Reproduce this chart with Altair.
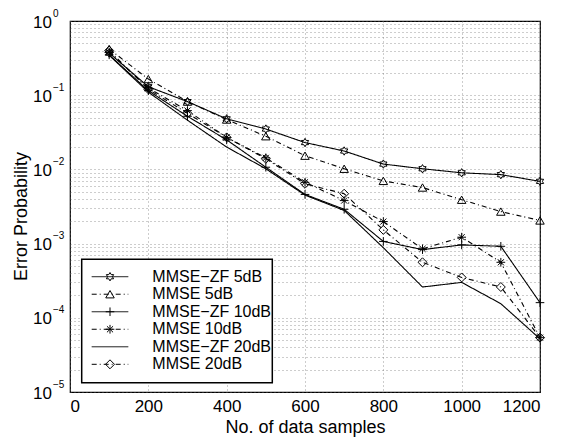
import altair as alt
import pandas as pd

# ---------------- data ----------------
x_samples = [100, 200, 300, 400, 500, 600, 700, 800, 900, 1000, 1100, 1200]
series_names = ["MMSE−ZF 5dB", "MMSE 5dB", "MMSE−ZF 10dB",
                "MMSE 10dB", "MMSE−ZF 20dB", "MMSE 20dB"]
zf_5db = [0.37, 0.13, 0.082, 0.048, 0.035, 0.023, 0.0177, 0.0118, 0.0102, 0.0090, 0.0085, 0.0069]
mmse_5db = [0.42, 0.165, 0.082, 0.047, 0.028, 0.0153, 0.0102, 0.0070, 0.0057, 0.0039, 0.0027, 0.00205]
zf_10db = [0.35, 0.115, 0.052, 0.025, 0.0107, 0.0046, 0.0029, 0.00107, 0.00083, 0.00096, 0.00092, 0.00016]
mmse_10db = [0.38, 0.125, 0.062, 0.027, 0.0143, 0.0067, 0.0038, 0.00198, 0.00085, 0.00122, 0.00056, 0.000054]
zf_20db = [0.345, 0.11, 0.046, 0.020, 0.0102, 0.0045, 0.0028, 0.00088, 0.00026, 0.0003, 0.000155, 0.000052]
mmse_20db = [0.40, 0.12, 0.057, 0.027, 0.0139, 0.0064, 0.0047, 0.00153, 0.00056, 0.00035, 0.00026, 0.000054]

x_ticks = [0, 200, 400, 600, 800, 1000, 1200]
decades = [1e-5, 1e-4, 1e-3, 1e-2, 1e-1, 1.0]
exponents = ["−5", "−4", "−3", "−2", "−1", "0"]
minor_ticks = [m * 10.0 ** e for e in range(-5, 0) for m in range(1, 10)] + [1.0]

rows = []
for name, vals in zip(series_names, [zf_5db, mmse_5db, zf_10db, mmse_10db, zf_20db, mmse_20db]):
    for xv, yv in zip(x_samples, vals):
        rows.append({"series": name, "samples": xv, "prob": yv})
df = pd.DataFrame(rows)
df_markers = df[df["series"] != "MMSE−ZF 20dB"]
df_leg = pd.DataFrame({"series": series_names})
df_leg_m = df_leg[df_leg["series"] != "MMSE−ZF 20dB"]
df_dec = pd.DataFrame({"decade": decades, "exp": exponents})
df_box = pd.DataFrame({"a": [0]})

# ---------------- styles ----------------
FONT = "Liberation Sans"
HEX = ("M0,-1L0.289,-0.5L0.866,-0.5L0.577,0L0.866,0.5L0.289,0.5L0,1"
       "L-0.289,0.5L-0.866,0.5L-0.577,0L-0.866,-0.5L-0.289,-0.5Z")
PLUS = "M-1,0L1,0M0,-1L0,1"
AST = "M-1,0L1,0M0,-1L0,1M-0.7,-0.7L0.7,0.7M-0.7,0.7L0.7,-0.7"
shape_scale = alt.Scale(domain=series_names,
                        range=[HEX, "triangle-up", PLUS, AST, "circle", "diamond"])
size_scale = alt.Scale(domain=series_names, range=[70, 80, 80, 70, 0, 70])
dash_scale = alt.Scale(domain=series_names,
                       range=[[1, 0], [5, 3, 1, 3], [1, 0], [5, 3, 1, 3], [1, 0], [5, 3, 1, 3]])
y_scale = alt.Scale(type="log", domain=[1e-5, 1], nice=False)
x_scale = alt.Scale(domain=[0, 1200], nice=False)
leg_scale = alt.Scale(type="point", domain=series_names, range=[255.7, 343.3], padding=0)

# ---------------- main plot ----------------
lines = alt.Chart(df).mark_line(color="black", strokeWidth=1.1).encode(
    x=alt.X("samples:Q", scale=x_scale,
            axis=alt.Axis(values=x_ticks, title="No. of data samples", grid=True,
                          ticks=False, domain=False, labelFontSize=17, titleFontSize=18,
                          labelPadding=6, titlePadding=4, format="d")),
    y=alt.Y("prob:Q", scale=y_scale,
            axis=alt.Axis(values=minor_ticks, labels=False, ticks=False, domain=False,
                          grid=True, title="Error Probability", titleFontSize=18,
                          titleAngle=-90, titleX=-49, titleY=195, titleBaseline="middle",
                          titleAlign="center")),
    strokeDash=alt.StrokeDash("series:N", scale=dash_scale, legend=None),
    detail="series:N",
)

points = alt.Chart(df_markers).mark_point(filled=False, color="black", strokeWidth=1,
                                          opacity=1).encode(
    x=alt.X("samples:Q", scale=x_scale),
    y=alt.Y("prob:Q", scale=y_scale, axis=None),
    shape=alt.Shape("series:N", scale=shape_scale, legend=None),
    size=alt.Size("series:N", scale=size_scale, legend=None),
)

dec_base = alt.Chart(df_dec).mark_text(align="right", baseline="middle", fontSize=17,
                                       font=FONT, color="black", dy=1.5).encode(
    x=alt.value(-18),
    y=alt.Y("decade:Q", scale=y_scale, axis=None),
    text=alt.value("10"),
)
dec_exp = alt.Chart(df_dec).mark_text(align="left", baseline="middle", fontSize=10,
                                      font=FONT, color="black", dy=-7.5).encode(
    x=alt.value(-17),
    y=alt.Y("decade:Q", scale=y_scale, axis=None),
    text="exp:N",
)

# ---------------- legend ----------------
box = alt.Chart(df_box).mark_rect(fill="white", stroke="black", strokeWidth=1.5).encode(
    x=alt.value(11.7), x2=alt.value(202.3), y=alt.value(238.3), y2=alt.value(361.7)
)
leg_lines = alt.Chart(df_leg).mark_rule(color="black", strokeWidth=1).encode(
    x=alt.value(21.7), x2=alt.value(58.3),
    y=alt.Y("series:N", scale=leg_scale, axis=None),
    strokeDash=alt.StrokeDash("series:N", scale=dash_scale, legend=None),
)
leg_points = alt.Chart(df_leg_m).mark_point(filled=False, color="black", strokeWidth=1,
                                            opacity=1).encode(
    x=alt.value(40),
    y=alt.Y("series:N", scale=leg_scale, axis=None),
    shape=alt.Shape("series:N", scale=shape_scale, legend=None),
    size=alt.Size("series:N", scale=size_scale, legend=None),
)
leg_text = alt.Chart(df_leg).mark_text(align="left", baseline="middle", fontSize=16,
                                       font=FONT, color="black").encode(
    x=alt.value(82.3),
    y=alt.Y("series:N", scale=leg_scale, axis=None),
    text="series:N",
)

chart = alt.layer(
    lines, points, dec_base, dec_exp, box, leg_lines, leg_points, leg_text
).resolve_scale(
    y="independent"
).properties(
    width=470, height=371,
    autosize=alt.AutoSizeParams(type="none"),
    padding={"left": 62, "top": 13, "right": 13, "bottom": 48},
    background="white",
).configure_view(
    stroke="black", strokeWidth=1.2
).configure_axis(
    labelFont=FONT, titleFont=FONT, labelColor="black", titleColor="black",
    titleFontWeight="normal", gridColor="#666666", gridDash=[1, 3], gridWidth=1,
    gridOpacity=0.65,
)

chart.save("out.html", embed_options={"renderer": "svg", "actions": False})
